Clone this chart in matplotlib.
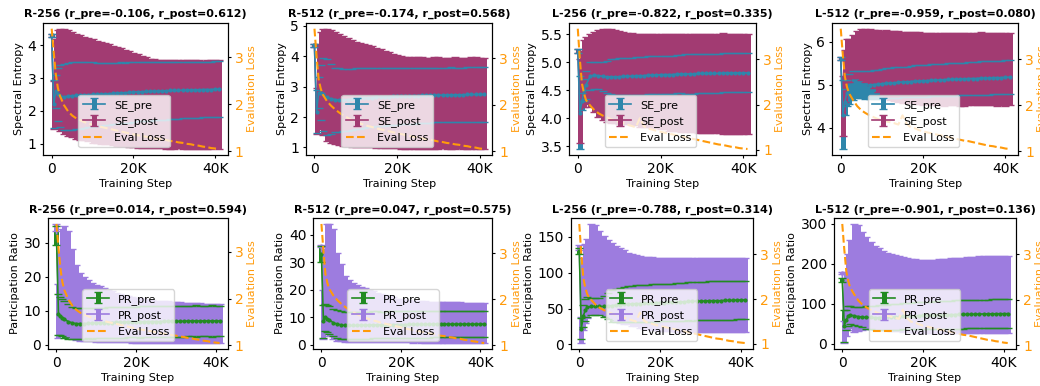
import matplotlib
matplotlib.use("Agg")
import matplotlib.pyplot as plt
from matplotlib.ticker import FuncFormatter

# ---------------- data ----------------
steps = [0, 500, 1000, 1500, 2000, 3000, 4000, 5000, 6000, 7000, 8000, 9000, 10000,
         11000, 12000, 13000, 14000, 15000, 16000, 17000, 18000, 19000, 20000, 21000,
         22000, 23000, 24000, 25000, 26000, 27000, 28000, 29000, 30000, 31000, 32000,
         33000, 34000, 35000, 36000, 37000, 38000, 39000, 40000, 41000]

loss_r256 = [3.60, 3.10, 2.64, 2.35, 2.18, 1.98, 1.85, 1.76, 1.70, 1.66, 1.62, 1.59, 1.56, 1.54, 1.52,
             1.50, 1.48, 1.46, 1.44, 1.42, 1.40, 1.38, 1.36, 1.34, 1.33, 1.31, 1.30, 1.28, 1.27, 1.25,
             1.24, 1.22, 1.21, 1.19, 1.18, 1.16, 1.15, 1.13, 1.12, 1.10, 1.09, 1.07, 1.06, 1.05]
loss_r512 = [3.63, 3.05, 2.55, 2.35, 2.22, 2.08, 1.98, 1.90, 1.83, 1.77, 1.72, 1.67, 1.63, 1.60, 1.57,
             1.54, 1.52, 1.49, 1.47, 1.45, 1.43, 1.41, 1.39, 1.37, 1.35, 1.33, 1.31, 1.30, 1.28, 1.26,
             1.25, 1.23, 1.21, 1.20, 1.18, 1.17, 1.15, 1.14, 1.12, 1.11, 1.09, 1.08, 1.06, 1.05]
loss_l256 = [3.68, 3.00, 2.47, 2.25, 2.10, 1.98, 1.88, 1.81, 1.76, 1.72, 1.68, 1.65, 1.62, 1.59, 1.56,
             1.53, 1.50, 1.70, 1.52, 1.47, 1.45, 1.42, 1.40, 1.38, 1.36, 1.34, 1.32, 1.30, 1.28, 1.26,
             1.24, 1.22, 1.20, 1.18, 1.16, 1.14, 1.12, 1.11, 1.09, 1.07, 1.06, 1.04, 1.03, 1.02]
loss_l512 = [3.66, 3.10, 2.62, 2.40, 2.26, 2.11, 1.98, 1.89, 1.83, 1.78, 1.74, 1.70, 1.67, 1.65, 1.63,
             1.61, 1.58, 1.78, 1.60, 1.52, 1.50, 1.46, 1.43, 1.41, 1.39, 1.37, 1.35, 1.33, 1.31, 1.29,
             1.27, 1.25, 1.23, 1.22, 1.20, 1.18, 1.16, 1.14, 1.12, 1.11, 1.09, 1.08, 1.06, 1.05]

# Spectral entropy, R-256
se_pre_mean_r256 = [4.30, 2.20, 2.60, 2.50, 2.45, 2.42, 2.45, 2.46, 2.47, 2.47, 2.48, 2.49, 2.50, 2.50, 2.51,
                    2.52, 2.52, 2.53, 2.54, 2.55, 2.55, 2.56, 2.57, 2.58, 2.58, 2.59, 2.59, 2.60, 2.60, 2.61,
                    2.61, 2.62, 2.62, 2.62, 2.63, 2.63, 2.64, 2.64, 2.64, 2.65, 2.65, 2.65, 2.66, 2.66]
se_pre_std_r256 = [0.05, 0.73, 0.50, 0.80, 0.95, 1.00, 1.02, 1.04, 1.03, 1.02, 1.00, 0.99, 0.98, 0.97, 0.96,
                   0.95, 0.95, 0.94, 0.93, 0.93, 0.92, 0.92, 0.91, 0.90, 0.90, 0.90, 0.89, 0.89, 0.88, 0.88,
                   0.88, 0.87, 0.87, 0.87, 0.86, 0.86, 0.86, 0.86, 0.85, 0.85, 0.85, 0.85, 0.85, 0.85]
se_post_mean_r256 = [4.30, 2.18, 2.90, 3.00, 2.95, 2.90, 2.85, 2.80, 2.75, 2.72, 2.68, 2.65, 2.60, 2.58, 2.55,
                     2.52, 2.50, 2.47, 2.44, 2.42, 2.39, 2.36, 2.33, 2.30, 2.27, 2.25, 2.23, 2.22, 2.21, 2.21,
                     2.20, 2.20, 2.20, 2.20, 2.19, 2.19, 2.19, 2.19, 2.19, 2.19, 2.20, 2.20, 2.20, 2.20]
se_post_std_r256 = [0.05, 0.72, 1.30, 1.45, 1.55, 1.60, 1.60, 1.60, 1.60, 1.60, 1.58, 1.57, 1.58, 1.56, 1.55,
                    1.54, 1.52, 1.51, 1.50, 1.48, 1.47, 1.46, 1.44, 1.42, 1.40, 1.38, 1.36, 1.35, 1.35, 1.35,
                    1.35, 1.35, 1.35, 1.34, 1.35, 1.35, 1.35, 1.35, 1.35, 1.34, 1.35, 1.35, 1.34, 1.35]

# Spectral entropy, R-512
se_pre_mean_r512 = [4.35, 2.18, 2.80, 2.80, 2.75, 2.65, 2.60, 2.57, 2.56, 2.56, 2.57, 2.58, 2.60, 2.61, 2.62,
                    2.63, 2.64, 2.65, 2.66, 2.66, 2.67, 2.68, 2.68, 2.69, 2.69, 2.70, 2.70, 2.70, 2.71, 2.71,
                    2.71, 2.72, 2.72, 2.72, 2.72, 2.73, 2.73, 2.73, 2.73, 2.74, 2.74, 2.74, 2.74, 2.74]
se_pre_std_r512 = [0.05, 0.72, 0.50, 0.90, 1.20, 1.25, 1.15, 1.05, 1.04, 1.03, 1.02, 1.01, 1.00, 0.99, 0.98,
                   0.97, 0.96, 0.95, 0.95, 0.94, 0.94, 0.93, 0.93, 0.93, 0.92, 0.92, 0.92, 0.91, 0.91, 0.91,
                   0.91, 0.90, 0.90, 0.90, 0.90, 0.90, 0.89, 0.89, 0.89, 0.89, 0.89, 0.89, 0.89, 0.89]
se_post_mean_r512 = [4.35, 2.20, 3.10, 3.20, 3.15, 3.05, 3.00, 2.95, 2.90, 2.86, 2.82, 2.78, 2.75, 2.72, 2.70,
                     2.68, 2.66, 2.63, 2.60, 2.58, 2.55, 2.52, 2.50, 2.48, 2.47, 2.46, 2.46, 2.46, 2.46, 2.45,
                     2.45, 2.46, 2.46, 2.46, 2.45, 2.45, 2.46, 2.46, 2.45, 2.45, 2.46, 2.46, 2.45, 2.45]
se_post_std_r512 = [0.05, 0.75, 1.30, 1.60, 1.75, 1.85, 1.85, 1.83, 1.82, 1.80, 1.78, 1.76, 1.73, 1.72, 1.70,
                    1.68, 1.66, 1.64, 1.62, 1.60, 1.57, 1.55, 1.53, 1.52, 1.51, 1.50, 1.50, 1.50, 1.50, 1.50,
                    1.50, 1.50, 1.50, 1.49, 1.50, 1.50, 1.50, 1.49, 1.50, 1.50, 1.50, 1.50, 1.50, 1.50]

# Spectral entropy, L-256
se_pre_mean_l256 = [5.20, 4.10, 4.30, 4.50, 4.60, 4.75, 4.77, 4.76, 4.75, 4.74, 4.74, 4.74, 4.74, 4.75, 4.75,
                    4.75, 4.76, 4.76, 4.76, 4.77, 4.77, 4.77, 4.78, 4.78, 4.78, 4.78, 4.79, 4.79, 4.79, 4.79,
                    4.79, 4.80, 4.80, 4.80, 4.80, 4.80, 4.80, 4.81, 4.81, 4.81, 4.81, 4.81, 4.81, 4.81]
se_pre_std_l256 = [0.03, 0.65, 0.15, 0.20, 0.25, 0.25, 0.24, 0.24, 0.26, 0.29, 0.31, 0.32, 0.33, 0.33, 0.33,
                   0.33, 0.34, 0.34, 0.34, 0.34, 0.34, 0.34, 0.34, 0.34, 0.34, 0.34, 0.34, 0.34, 0.35, 0.35,
                   0.35, 0.35, 0.35, 0.35, 0.35, 0.35, 0.35, 0.35, 0.35, 0.35, 0.35, 0.35, 0.35, 0.35]
se_post_mean_l256 = [5.20, 4.30, 4.70, 4.80, 4.85, 4.85, 4.83, 4.80, 4.78, 4.77, 4.76, 4.75, 4.73, 4.72, 4.71,
                     4.70, 4.69, 4.68, 4.67, 4.67, 4.66, 4.66, 4.65, 4.65, 4.64, 4.64, 4.64, 4.63, 4.63, 4.63,
                     4.63, 4.62, 4.62, 4.62, 4.62, 4.62, 4.62, 4.62, 4.61, 4.61, 4.61, 4.61, 4.61, 4.61]
se_post_std_l256 = [0.03, 0.75, 0.50, 0.60, 0.60, 0.65, 0.72, 0.78, 0.82, 0.83, 0.84, 0.83, 0.83, 0.82, 0.82,
                    0.82, 0.82, 0.83, 0.83, 0.83, 0.84, 0.84, 0.85, 0.85, 0.86, 0.86, 0.87, 0.87, 0.87, 0.88,
                    0.88, 0.88, 0.88, 0.89, 0.89, 0.89, 0.89, 0.90, 0.90, 0.90, 0.90, 0.90, 0.90, 0.90]

# Spectral entropy, L-512
se_pre_mean_l512 = [5.60, 4.30, 4.60, 4.80, 4.90, 4.98, 5.00, 5.00, 4.99, 4.99, 5.00, 5.01, 5.02, 5.03, 5.03,
                    5.04, 5.05, 5.06, 5.06, 5.07, 5.08, 5.08, 5.09, 5.09, 5.10, 5.10, 5.11, 5.11, 5.12, 5.12,
                    5.12, 5.13, 5.13, 5.14, 5.14, 5.14, 5.15, 5.15, 5.15, 5.16, 5.16, 5.16, 5.17, 5.17]
se_pre_std_l512 = [0.03, 0.80, 0.30, 0.30, 0.35, 0.33, 0.32, 0.32, 0.33, 0.33, 0.34, 0.34, 0.35, 0.35, 0.35,
                   0.36, 0.36, 0.36, 0.36, 0.36, 0.37, 0.37, 0.37, 0.37, 0.37, 0.37, 0.38, 0.38, 0.38, 0.38,
                   0.38, 0.38, 0.38, 0.38, 0.38, 0.39, 0.39, 0.39, 0.39, 0.39, 0.39, 0.39, 0.39, 0.39]
se_post_mean_l512 = [5.60, 4.50, 5.20, 5.55, 5.55, 5.65, 5.70, 5.70, 5.68, 5.65, 5.60, 5.55, 5.50, 5.48, 5.45,
                     5.43, 5.42, 5.40, 5.40, 5.39, 5.38, 5.38, 5.37, 5.37, 5.37, 5.37, 5.36, 5.36, 5.36, 5.37,
                     5.36, 5.36, 5.35, 5.36, 5.36, 5.36, 5.37, 5.36, 5.36, 5.36, 5.35, 5.36, 5.36, 5.36]
se_post_std_l512 = [0.03, 0.70, 0.60, 0.50, 0.50, 0.50, 0.55, 0.60, 0.62, 0.65, 0.68, 0.72, 0.75, 0.78, 0.80,
                    0.81, 0.82, 0.83, 0.83, 0.83, 0.84, 0.84, 0.84, 0.83, 0.84, 0.84, 0.84, 0.85, 0.84, 0.84,
                    0.84, 0.85, 0.84, 0.84, 0.84, 0.84, 0.85, 0.84, 0.84, 0.84, 0.84, 0.84, 0.85, 0.84]

# Participation ratio, R-256
pr_pre_mean_r256 = [32.0, 9.0, 8.5, 8.0, 7.5, 6.8, 6.4, 6.2, 6.2, 6.2, 6.3, 6.3, 6.4, 6.4, 6.5,
                    6.5, 6.5, 6.6, 6.6, 6.6, 6.7, 6.7, 6.7, 6.7, 6.8, 6.8, 6.8, 6.8, 6.8, 6.9,
                    6.9, 6.9, 6.9, 6.9, 6.9, 7.0, 7.0, 7.0, 7.0, 7.0, 7.0, 7.0, 7.0, 7.0]
pr_pre_std_r256 = [2.8, 6.0, 5.5, 5.5, 5.5, 5.2, 4.8, 4.6, 4.5, 4.5, 4.4, 4.5, 4.5, 4.5, 4.4,
                   4.5, 4.5, 4.5, 4.5, 4.6, 4.5, 4.5, 4.5, 4.6, 4.5, 4.5, 4.5, 4.5, 4.6, 4.5,
                   4.5, 4.5, 4.6, 4.5, 4.5, 4.5, 4.5, 4.6, 4.5, 4.5, 4.5, 4.6, 4.5, 4.5]
pr_post_mean_r256 = [34.5, 10.0, 15.0, 19.0, 19.0, 18.0, 15.0, 12.5, 11.0, 10.5, 10.0, 9.6, 9.3, 9.0, 8.7,
                     8.5, 8.2, 8.0, 7.8, 7.6, 7.5, 7.3, 7.2, 7.1, 7.0, 6.9, 6.9, 6.8, 6.8, 6.7,
                     6.7, 6.6, 6.6, 6.5, 6.5, 6.5, 6.4, 6.4, 6.4, 6.3, 6.3, 6.3, 6.3, 6.3]
pr_post_std_r256 = [1.0, 8.0, 12.0, 15.0, 16.0, 15.5, 13.0, 11.0, 10.0, 9.5, 9.0, 8.6, 8.4, 8.2, 7.9,
                    7.7, 7.5, 7.3, 7.1, 6.9, 6.8, 6.7, 6.6, 6.5, 6.4, 6.3, 6.3, 6.2, 6.2, 6.1,
                    6.1, 6.0, 6.0, 6.0, 5.9, 5.9, 5.9, 5.9, 5.9, 5.8, 5.8, 5.8, 5.8, 5.8]

# Participation ratio, R-512
pr_pre_mean_r512 = [33.0, 8.5, 10.0, 9.5, 9.0, 8.0, 7.5, 7.2, 7.0, 7.0, 7.0, 7.0, 7.1, 7.1, 7.1,
                    7.2, 7.2, 7.2, 7.2, 7.3, 7.3, 7.3, 7.3, 7.3, 7.4, 7.4, 7.4, 7.4, 7.4, 7.4,
                    7.5, 7.5, 7.5, 7.5, 7.5, 7.5, 7.5, 7.5, 7.5, 7.5, 7.5, 7.5, 7.5, 7.5]
pr_pre_std_r512 = [3.0, 6.0, 5.0, 5.0, 5.0, 5.0, 5.0, 5.0, 5.0, 5.0, 5.0, 4.9, 4.9, 4.9, 4.9,
                   4.9, 4.9, 4.8, 4.8, 4.8, 4.8, 4.8, 4.8, 4.8, 4.8, 4.8, 4.8, 4.8, 4.8, 4.8,
                   4.8, 4.8, 4.8, 4.8, 4.8, 4.8, 4.8, 4.8, 4.8, 4.8, 4.8, 4.8, 4.8, 4.8]
pr_post_mean_r512 = [36.0, 11.0, 20.0, 24.0, 23.5, 22.0, 17.5, 15.5, 13.0, 12.2, 11.8, 11.4, 11.0, 10.7, 10.4,
                     10.1, 9.9, 9.6, 9.4, 9.2, 9.0, 8.8, 8.7, 8.6, 8.5, 8.4, 8.4, 8.3, 8.3, 8.2,
                     8.2, 8.1, 8.1, 8.1, 8.0, 8.0, 8.0, 8.0, 8.0, 7.9, 7.9, 7.9, 7.9, 7.9]
pr_post_std_r512 = [0.5, 9.0, 15.0, 20.0, 20.5, 20.0, 16.0, 14.0, 12.0, 11.2, 10.8, 10.4, 10.0, 9.8, 9.6,
                    9.3, 9.1, 8.8, 8.6, 8.4, 8.2, 8.0, 7.9, 7.8, 7.7, 7.7, 7.6, 7.6, 7.6, 7.5,
                    7.5, 7.5, 7.5, 7.4, 7.4, 7.4, 7.4, 7.4, 7.3, 7.3, 7.3, 7.3, 7.3, 7.3]

# Participation ratio, L-256
pr_pre_mean_l256 = [130, 22, 40, 48, 52, 53, 53, 53, 53, 54, 54, 55, 55, 56, 56,
                    56.5, 57, 57, 57.5, 57.5, 58, 58, 58.5, 58.5, 59, 59, 59, 59.5, 59.5, 60,
                    60, 60.5, 60.5, 60.5, 61, 61, 61, 61, 61.5, 61.5, 61.5, 62, 62, 62]
pr_pre_std_l256 = [4, 15, 15, 15, 14, 12, 12, 12, 14, 18, 22, 23, 24, 24.5, 25,
                   25, 25.5, 25.5, 25.5, 26, 26, 26, 26, 26, 26, 26, 26.5, 26.5, 26.5, 26.5,
                   27, 27, 27, 27, 27, 27, 27, 27, 27, 27, 27, 27, 27, 27]
pr_post_mean_l256 = [135, 20, 70, 85, 92, 105, 105, 100, 96, 92, 88, 85, 82, 80, 78,
                     76, 75, 73, 72, 71.5, 71, 70.5, 70, 70, 69.5, 69.5, 69, 69, 69, 69,
                     69, 69, 69, 69, 69, 69, 69, 69, 69, 69, 69, 69, 69, 69]
pr_post_std_l256 = [3, 18, 50, 55, 55, 63, 62, 58, 55, 54, 53, 52, 52, 51, 50,
                    50, 49.5, 50, 50, 50, 50.5, 50.5, 51, 51, 51, 51, 51, 51, 51, 51,
                    51, 51, 51, 51.5, 51.5, 51.5, 51.5, 51, 51, 51, 51, 51, 51, 51]

# Participation ratio, L-512
pr_pre_mean_l512 = [160, 45, 60, 70, 72, 70, 68, 67, 66, 66, 65.5, 65.5, 66, 66.5, 67,
                    67.5, 68, 68.5, 69, 69.5, 70, 70.5, 71, 71.3, 71.6, 72, 72.3, 72.5, 72.8, 73,
                    73.3, 73.5, 73.7, 73.9, 74.1, 74.3, 74.5, 74.7, 74.9, 75, 75.2, 75.3, 75.4, 75.5]
pr_pre_std_l512 = [5, 40, 25, 25, 22, 22, 24, 26, 28, 29, 30, 30.5, 31, 31.5, 32,
                   32, 32.5, 32.5, 33, 33, 33.5, 33.5, 34, 34, 34.2, 34.4, 34.6, 34.8, 35, 35,
                   35.2, 35.3, 35.4, 35.5, 35.6, 35.7, 35.8, 35.9, 36, 36, 36, 36, 36, 36]
pr_post_mean_l512 = [178, 30, 100, 130, 150, 165, 165, 158, 152, 146, 141, 137, 134, 131, 129,
                     127, 125, 123.5, 122, 121, 120, 119.5, 119, 119, 119.5, 119.5, 120, 120, 120.5, 121,
                     121.5, 122, 122, 122.5, 122.5, 123, 123, 123, 123.5, 123.5, 124, 124, 124, 124]
pr_post_std_l512 = [3, 28, 80, 95, 110, 135, 133, 123, 116, 110, 105, 102, 99, 97, 96,
                    95, 94, 93.5, 93, 92.5, 92, 91.5, 91, 91, 91.5, 91.5, 92, 92, 92.5, 93,
                    93.5, 94, 94, 94.5, 95, 95.5, 96, 96, 96.5, 96.5, 97, 97, 97, 97]

titles = ["R-256 (r_pre=-0.106, r_post=0.612)", "R-512 (r_pre=-0.174, r_post=0.568)",
          "L-256 (r_pre=-0.822, r_post=0.335)", "L-512 (r_pre=-0.959, r_post=0.080)",
          "R-256 (r_pre=0.014, r_post=0.594)", "R-512 (r_pre=0.047, r_post=0.575)",
          "L-256 (r_pre=-0.788, r_post=0.314)", "L-512 (r_pre=-0.901, r_post=0.136)"]

# ---------------- style ----------------
C_SE_PRE, C_SE_POST = "#2E86AB", "#A23B72"
C_PR_PRE, C_PR_POST = "#228B22", "#9D7CDF"
C_LOSS = "#FF9A0A"

W, H = 1040, 386
boxes = [(43.3, 22.7, 227.7, 155), (306, 22.7, 492.3, 155), (569.3, 22.7, 756, 155), (832.3, 22.7, 1018, 155),
         (48.3, 218, 227.7, 349), (313.3, 218, 492.3, 349), (571, 218, 753.3, 349), (834, 218, 1016, 349)]

panels = [
    ("SE", "Spectral Entropy", se_pre_mean_r256, se_pre_std_r256, se_post_mean_r256, se_post_std_r256, loss_r256, [1, 2, 3, 4]),
    ("SE", "Spectral Entropy", se_pre_mean_r512, se_pre_std_r512, se_post_mean_r512, se_post_std_r512, loss_r512, [1, 2, 3, 4, 5]),
    ("SE", "Spectral Entropy", se_pre_mean_l256, se_pre_std_l256, se_post_mean_l256, se_post_std_l256, loss_l256, [3.5, 4.0, 4.5, 5.0, 5.5]),
    ("SE", "Spectral Entropy", se_pre_mean_l512, se_pre_std_l512, se_post_mean_l512, se_post_std_l512, loss_l512, [4, 5, 6]),
    ("PR", "Participation Ratio", pr_pre_mean_r256, pr_pre_std_r256, pr_post_mean_r256, pr_post_std_r256, loss_r256, [0, 10, 20, 30]),
    ("PR", "Participation Ratio", pr_pre_mean_r512, pr_pre_std_r512, pr_post_mean_r512, pr_post_std_r512, loss_r512, [0, 10, 20, 30, 40]),
    ("PR", "Participation Ratio", pr_pre_mean_l256, pr_pre_std_l256, pr_post_mean_l256, pr_post_std_l256, loss_l256, [0, 50, 100, 150]),
    ("PR", "Participation Ratio", pr_pre_mean_l512, pr_pre_std_l512, pr_post_mean_l512, pr_post_std_l512, loss_l512, [0, 100, 200, 300]),
]

fig = plt.figure(figsize=(W / 100, H / 100), dpi=100)
kfmt = FuncFormatter(lambda v, p: "0" if v == 0 else f"{int(round(v / 1000))}K")

for i, (metric, ylab, pm, ps, qm, qs, loss, yt) in enumerate(panels):
    l, t, r, b = boxes[i]
    ax = fig.add_axes([l / W, 1 - b / H, (r - l) / W, (b - t) / H])
    c_pre, c_post = (C_SE_PRE, C_SE_POST) if metric == "SE" else (C_PR_PRE, C_PR_POST)
    eb1 = ax.errorbar(steps, pm, yerr=ps, fmt="-o", color=c_pre, ms=2, lw=1.2,
                      elinewidth=3.6, capsize=3.0, capthick=1.0, label=f"{metric}_pre")
    eb2 = ax.errorbar(steps, qm, yerr=qs, fmt="-o", color=c_post, ms=2, lw=1.2,
                      elinewidth=3.6, capsize=3.0, capthick=1.0, label=f"{metric}_post")
    eb1.lines[0].set_zorder(2.6)
    for cl in eb1.lines[1]:
        cl.set_zorder(2.6)
    ax.set_yticks(yt)
    ax.set_xticks([0, 20000, 40000])
    ax.xaxis.set_major_formatter(kfmt)
    ax.tick_params(labelsize=10, length=2.5, pad=2.5)
    ax.set_xlabel("Training Step", fontsize=8, labelpad=2.5)
    ax.set_ylabel(ylab, fontsize=8, labelpad=2.5)
    ax.set_title(titles[i], fontsize=8, fontweight="bold", pad=4)

    ax2 = ax.twinx()
    ax2.plot(steps, loss, "--", color=C_LOSS, lw=1.5, label="Eval Loss")
    ax2.set_yticks([1, 2, 3])
    ax2.tick_params(axis="y", labelcolor=C_LOSS, labelsize=10, length=2.5, pad=2.5)
    ax2.set_ylabel("Evaluation Loss", color=C_LOSS, fontsize=8, labelpad=2.5)

    h1, l1 = ax.get_legend_handles_labels()
    h2, l2 = ax2.get_legend_handles_labels()
    ax2.legend(h1 + h2, l1 + l2, loc="lower left", bbox_to_anchor=(0.19, 0.06),
               borderaxespad=0, fontsize=8)

fig.savefig("out.png", dpi=100)
